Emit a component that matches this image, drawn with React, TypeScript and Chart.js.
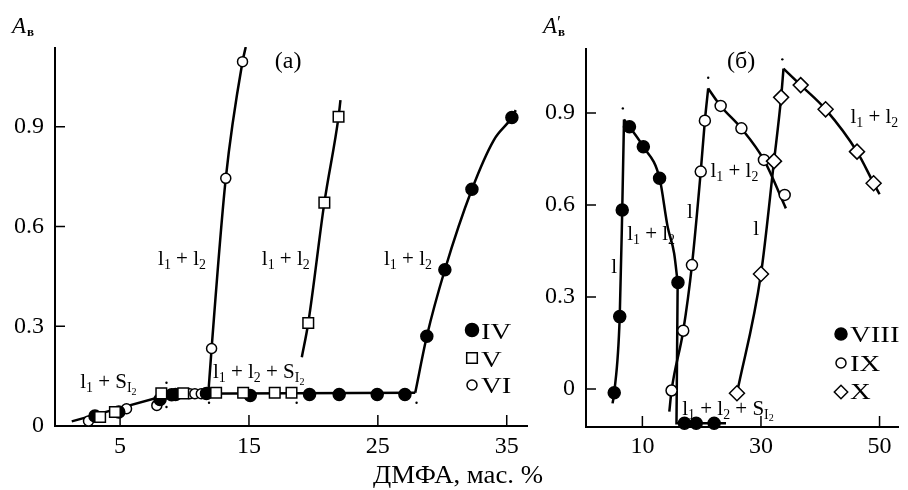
import React, { useEffect, useRef } from 'react';
import { Chart, registerables } from 'chart.js';

Chart.register(...registerables);

const FONT = '"Liberation Serif", "Times New Roman", serif';

// ---------- Panel (а) ----------
const A_X_TICKS = [5, 15, 25, 35];
const A_Y_TICKS = [0, 0.3, 0.6, 0.9];
const A_Y_LABELS = ['0', '0.3', '0.6', '0.9'];

const IV_X = [3.05, 4.9, 8.1, 9.0, 9.3, 11.7, 15.1, 19.7, 22.0, 24.95, 27.1, 28.8, 30.2, 32.3, 35.4];
const IV_Y = [0.03, 0.042, 0.08, 0.094, 0.095, 0.098, 0.092, 0.095, 0.095, 0.095, 0.095, 0.27, 0.47, 0.712, 0.928];
const V_X = [3.45, 4.6, 8.2, 9.9, 12.45, 14.55, 17.0, 18.3, 19.6, 20.85, 21.95];
const V_Y = [0.027, 0.042, 0.098, 0.098, 0.1, 0.1, 0.1, 0.1, 0.31, 0.672, 0.93];
const VI_X = [2.55, 5.5, 7.85, 10.4, 10.8, 11.3, 12.1, 13.2, 14.5];
const VI_Y = [0.015, 0.052, 0.062, 0.097, 0.097, 0.097, 0.233, 0.745, 1.096];

const BASE_X = [1.25, 9.0, 27.9];
const BASE_Y = [0.014, 0.097, 0.1];
const VI_FIT_X = [11.85, 12.1, 13.2, 14.5, 14.75];
const VI_FIT_Y = [0.1, 0.233, 0.745, 1.096, 1.14];
const V_FIT_X = [19.1, 19.6, 20.85, 21.95, 22.1];
const V_FIT_Y = [0.207, 0.31, 0.672, 0.93, 0.98];
const IV_FIT_X = [27.9, 28.8, 30.2, 32.3, 34.0, 35.4, 35.7];
const IV_FIT_Y = [0.1, 0.27, 0.47, 0.712, 0.86, 0.928, 0.95];
const DOTS_A_X = [8.6, 8.6, 11.9, 18.7, 28.0];
const DOTS_A_Y = [0.13, 0.057, 0.07, 0.07, 0.07];

// ---------- Panel (б) ----------
const B_X_TICKS = [10, 30, 50];
const B_Y_TICKS = [0, 0.3, 0.6, 0.9];
const B_Y_LABELS = ['0', '0.3', '0.6', '0.9'];

const VIII_X = [5.25, 6.18, 6.6, 7.82, 10.16, 12.9, 16.0, 17.1, 19.07, 22.1];
const VIII_Y = [-0.012, 0.236, 0.584, 0.855, 0.79, 0.687, 0.347, -0.112, -0.112, -0.112];
const IX_X = [14.92, 16.89, 18.36, 19.84, 20.54, 23.2, 26.7, 30.5, 34.0];
const IX_Y = [-0.005, 0.19, 0.404, 0.709, 0.875, 0.923, 0.85, 0.747, 0.633];
const X_X = [25.95, 30.0, 32.2, 33.4, 36.7, 40.9, 46.2, 49.0];
const X_Y = [-0.014, 0.375, 0.743, 0.951, 0.991, 0.912, 0.774, 0.671];

const VIII_UP_X = [4.97, 5.25, 6.18, 6.6, 6.9];
const VIII_UP_Y = [-0.047, -0.012, 0.236, 0.584, 0.879];
const VIII_DOWN_X = [6.9, 7.82, 10.16, 12.9, 14.26, 15.36, 15.95];
const VIII_DOWN_Y = [0.879, 0.855, 0.79, 0.687, 0.529, 0.442, 0.347];
const VIII_DROP_X = [15.95, 15.75, 24.1];
const VIII_DROP_Y = [0.347, -0.112, -0.112];
const IX_UP_X = [14.54, 14.92, 16.89, 18.36, 19.84, 20.54, 21.1];
const IX_UP_Y = [-0.074, -0.005, 0.19, 0.404, 0.709, 0.875, 0.98];
const IX_DOWN_X = [21.1, 23.2, 26.7, 30.5, 34.2];
const IX_DOWN_Y = [0.98, 0.923, 0.85, 0.747, 0.589];
const X_UP_X = [25.95, 30.0, 32.2, 33.4, 33.8];
const X_UP_Y = [-0.014, 0.375, 0.743, 0.951, 1.045];
const X_DOWN_X = [33.8, 36.7, 40.9, 46.2, 49.0, 50.0];
const X_DOWN_Y = [1.045, 0.991, 0.912, 0.774, 0.671, 0.635];
const DOTS_B_X = [6.7, 21.1, 33.6];
const DOTS_B_Y = [0.915, 1.015, 1.075];

type Seg = [string, number];
const L: Seg[] = [['l', 0]];
const L12: Seg[] = [['l', 0], ['1', 1], [' + l', 0], ['2', 1]];
const L1S: Seg[] = [['l', 0], ['1', 1], [' + S', 0], ['I', 1], ['2', 2]];
const L12S: Seg[] = [['l', 0], ['1', 1], [' + l', 0], ['2', 1], [' + S', 0], ['I', 1], ['2', 2]];

const zip = (xs: number[], ys: number[]) => xs.map((x, i) => ({ x, y: ys[i] }));

function drawSegs(ctx: CanvasRenderingContext2D, segs: Seg[], x: number, y: number, size: number, hScale = 1) {
  const sz = [size, size * 0.66, size * 0.48];
  const off = [0, size * 0.2, size * 0.3];
  ctx.save();
  ctx.translate(x, y);
  ctx.scale(hScale, 1);
  ctx.fillStyle = '#000';
  ctx.textAlign = 'left';
  ctx.textBaseline = 'alphabetic';
  let cx = 0;
  for (const [t, l] of segs) {
    ctx.font = `${sz[l]}px ${FONT}`;
    ctx.fillText(t, cx, off[l]);
    cx += ctx.measureText(t).width;
  }
  ctx.restore();
}

function drawMarker(ctx: CanvasRenderingContext2D, style: string, x: number, y: number, r: number, fill: string) {
  ctx.beginPath();
  if (style === 'circle') ctx.arc(x, y, r, 0, Math.PI * 2);
  else if (style === 'rect') {
    const s = r * Math.SQRT1_2;
    ctx.rect(x - s, y - s, 2 * s, 2 * s);
  } else {
    ctx.moveTo(x - r, y);
    ctx.lineTo(x, y - r);
    ctx.lineTo(x + r, y);
    ctx.lineTo(x, y + r);
    ctx.closePath();
  }
  ctx.fillStyle = fill;
  ctx.fill();
  ctx.lineWidth = 1.5;
  ctx.strokeStyle = '#000';
  ctx.stroke();
}

type Note = { x: number; y: number; segs: Seg[]; size: number };
type LegendRow = { style: string; fill: string; r: number; label: string; my: number; ty: number };
type Deco = {
  xTicks: number[];
  yTicks: number[];
  notes: Note[];
  legend: { mx: number; tx: number; rows: LegendRow[] };
  yTitle: { x: number; y: number; prime: boolean };
  xTitle?: { x: number; y: number };
};

function makeDeco(d: Deco) {
  return {
    id: 'deco',
    beforeDatasetsDraw(chart: any) {
      const ctx: CanvasRenderingContext2D = chart.ctx;
      const { left, right, top, bottom } = chart.chartArea;
      const xs = chart.scales.x;
      const ys = chart.scales.y;
      ctx.save();
      ctx.strokeStyle = '#000';
      ctx.lineWidth = 2;
      ctx.beginPath();
      ctx.moveTo(left, top);
      ctx.lineTo(left, bottom);
      ctx.lineTo(right, bottom);
      ctx.stroke();
      ctx.lineWidth = 1.5;
      ctx.beginPath();
      for (const v of d.xTicks) {
        const px = xs.getPixelForValue(v);
        ctx.moveTo(px, bottom);
        ctx.lineTo(px, bottom - 11);
      }
      for (const v of d.yTicks) {
        const py = ys.getPixelForValue(v);
        ctx.moveTo(left, py);
        ctx.lineTo(left + 10, py);
      }
      ctx.stroke();
      ctx.restore();
    },
    afterDraw(chart: any) {
      const ctx: CanvasRenderingContext2D = chart.ctx;
      const xs = chart.scales.x;
      const ys = chart.scales.y;
      ctx.save();
      for (const n of d.notes) {
        drawSegs(ctx, n.segs, xs.getPixelForValue(n.x), ys.getPixelForValue(n.y), n.size);
      }
      for (const row of d.legend.rows) {
        drawMarker(ctx, row.style, d.legend.mx, row.my, row.r, row.fill);
        ctx.save();
        ctx.translate(d.legend.tx, row.ty);
        ctx.scale(1.25, 1);
        ctx.font = `23px ${FONT}`;
        ctx.fillStyle = '#000';
        ctx.textAlign = 'left';
        ctx.textBaseline = 'alphabetic';
        ctx.fillText(row.label, 0, 0);
        ctx.restore();
      }
      const t = d.yTitle;
      ctx.fillStyle = '#000';
      ctx.textAlign = 'left';
      ctx.textBaseline = 'alphabetic';
      ctx.font = `italic 23px ${FONT}`;
      ctx.fillText('A', t.x, t.y);
      const aw = ctx.measureText('A').width;
      if (t.prime) {
        ctx.font = `18px ${FONT}`;
        ctx.fillText('\u2032', t.x + aw, t.y - 4);
      }
      ctx.font = `bold 13px ${FONT}`;
      ctx.fillText('в', t.x + aw + 1, t.y + 3);
      if (d.xTitle) {
        ctx.save();
        ctx.translate(d.xTitle.x, d.xTitle.y);
        ctx.scale(1.07, 1);
        ctx.font = `25px ${FONT}`;
        ctx.fillText('ДМФА, мас. %', 0, 0);
        ctx.restore();
      }
      ctx.restore();
    },
  };
}

function lineDs(xs: number[], ys: number[], smooth = true) {
  return {
    data: zip(xs, ys),
    showLine: true,
    borderColor: '#000',
    borderWidth: 2.5,
    pointRadius: 0,
    fill: false,
    cubicInterpolationMode: smooth ? 'monotone' : 'default',
    tension: 0,
    order: 3,
  };
}

function markDs(xs: number[], ys: number[], style: string, r: number, fill: string) {
  return {
    data: zip(xs, ys),
    showLine: false,
    pointStyle: style,
    pointRadius: r,
    pointBackgroundColor: fill,
    pointBorderColor: '#000',
    pointBorderWidth: 1.5,
    order: 1,
    clip: false,
  };
}

function dotDs(xs: number[], ys: number[]) {
  return {
    data: zip(xs, ys),
    showLine: false,
    pointStyle: 'circle',
    pointRadius: 1.2,
    pointBackgroundColor: '#000',
    pointBorderWidth: 0,
    order: 2,
  };
}

function scales(xMin: number, xMax: number, yMin: number, yMax: number, xTicks: number[], yTicks: number[], yLabels: string[], xH: number, yW: number, xPad: number, yPad: number) {
  return {
    x: {
      type: 'linear',
      min: xMin,
      max: xMax,
      afterBuildTicks: (s: any) => {
        s.ticks = xTicks.map((v) => ({ value: v }));
      },
      afterFit: (s: any) => {
        s.height = xH;
      },
      grid: { display: false, drawTicks: false },
      border: { display: false },
      ticks: {
        font: { family: FONT, size: 24 },
        color: '#000',
        padding: xPad,
        autoSkip: false,
        maxRotation: 0,
        callback: (v: number) => String(v),
      },
    },
    y: {
      type: 'linear',
      min: yMin,
      max: yMax,
      afterBuildTicks: (s: any) => {
        s.ticks = yTicks.map((v) => ({ value: v }));
      },
      afterFit: (s: any) => {
        s.width = yW;
      },
      grid: { display: false, drawTicks: false },
      border: { display: false },
      ticks: {
        font: { family: FONT, size: 24 },
        color: '#000',
        padding: yPad,
        autoSkip: false,
        callback: (_v: number, i: number) => yLabels[i],
      },
    },
  };
}

function leftConfig(): any {
  return {
    type: 'scatter',
    data: {
      datasets: [
        lineDs(BASE_X, BASE_Y, false),
        lineDs(VI_FIT_X, VI_FIT_Y),
        lineDs(V_FIT_X, V_FIT_Y),
        lineDs(IV_FIT_X, IV_FIT_Y),
        dotDs(DOTS_A_X, DOTS_A_Y),
        markDs(V_X, V_Y, 'rect', 7.5, '#fff'),
        markDs(IV_X, IV_Y, 'circle', 6, '#000'),
        markDs(VI_X, VI_Y, 'circle', 5, '#fff'),
      ],
    },
    options: {
      responsive: false,
      animation: false,
      events: [],
      layout: { padding: { top: 47, right: 32, left: 0, bottom: 0 } },
      plugins: { legend: { display: false }, tooltip: { enabled: false } },
      scales: scales(-0.05, 36.65, 0, 1.14, A_X_TICKS, A_Y_TICKS, A_Y_LABELS, 64, 55, 6, 11),
    },
    plugins: [
      makeDeco({
        xTicks: A_X_TICKS,
        yTicks: A_Y_TICKS,
        notes: [
          { x: 17.0, y: 1.077, segs: [['(а)', 0]], size: 24 },
          { x: 7.95, y: 0.484, segs: L12, size: 21 },
          { x: 16.0, y: 0.484, segs: L12, size: 21 },
          { x: 25.48, y: 0.484, segs: L12, size: 21 },
          { x: 12.2, y: 0.1436, segs: L12S, size: 21 },
          { x: 1.9, y: 0.1135, segs: L1S, size: 21 },
        ],
        legend: {
          mx: 472,
          tx: 481,
          rows: [
            { style: 'circle', fill: '#000', r: 6.5, label: 'IV', my: 330, ty: 339 },
            { style: 'rect', fill: '#fff', r: 7.5, label: 'V', my: 358, ty: 367 },
            { style: 'circle', fill: '#fff', r: 5, label: 'VI', my: 385, ty: 393 },
          ],
        },
        yTitle: { x: 12, y: 33, prime: false },
        xTitle: { x: 373, y: 483 },
      }),
    ],
  };
}

function rightConfig(): any {
  return {
    type: 'scatter',
    data: {
      datasets: [
        lineDs(VIII_UP_X, VIII_UP_Y),
        lineDs(VIII_DOWN_X, VIII_DOWN_Y),
        lineDs(VIII_DROP_X, VIII_DROP_Y, false),
        lineDs(IX_UP_X, IX_UP_Y),
        lineDs(IX_DOWN_X, IX_DOWN_Y),
        lineDs(X_UP_X, X_UP_Y),
        lineDs(X_DOWN_X, X_DOWN_Y),
        dotDs(DOTS_B_X, DOTS_B_Y),
        markDs(X_X, X_Y, 'rectRot', 7.5, '#fff'),
        markDs(IX_X, IX_Y, 'circle', 5.5, '#fff'),
        markDs(VIII_X, VIII_Y, 'circle', 6, '#000'),
      ],
    },
    options: {
      responsive: false,
      animation: false,
      events: [],
      layout: { padding: { top: 48, right: 0, left: 0, bottom: 0 } },
      plugins: { legend: { display: false }, tooltip: { enabled: false } },
      scales: scales(0.49, 53.28, -0.124, 1.112, B_X_TICKS, B_Y_TICKS, B_Y_LABELS, 63, 51, 5, 11),
    },
    plugins: [
      makeDeco({
        xTicks: B_X_TICKS,
        yTicks: B_Y_TICKS,
        notes: [
          { x: 24.26, y: 1.047, segs: [['(б)', 0]], size: 24 },
          { x: 4.75, y: 0.378, segs: L, size: 21 },
          { x: 17.54, y: 0.5575, segs: L, size: 21 },
          { x: 28.69, y: 0.502, segs: L, size: 21 },
          { x: 7.43, y: 0.486, segs: L12, size: 21 },
          { x: 21.48, y: 0.691, segs: L12, size: 21 },
          { x: 45.08, y: 0.867, segs: L12, size: 21 },
          { x: 16.72, y: -0.085, segs: L12S, size: 21 },
        ],
        legend: {
          mx: 306,
          tx: 315,
          rows: [
            { style: 'circle', fill: '#000', r: 6, label: 'VIII', my: 334, ty: 342 },
            { style: 'circle', fill: '#fff', r: 5, label: 'IX', my: 363, ty: 371 },
            { style: 'rectRot', fill: '#fff', r: 6.7, label: 'X', my: 392, ty: 399 },
          ],
        },
        yTitle: { x: 8, y: 33, prime: true },
      }),
    ],
  };
}

export default function App() {
  const leftRef = useRef<HTMLCanvasElement>(null);
  const rightRef = useRef<HTMLCanvasElement>(null);
  useEffect(() => {
    const c1 = new Chart(leftRef.current as HTMLCanvasElement, leftConfig());
    const c2 = new Chart(rightRef.current as HTMLCanvasElement, rightConfig());
    return () => {
      c1.destroy();
      c2.destroy();
    };
  }, []);
  return (
    <div style={{ position: 'fixed', left: 0, top: 0, width: 908, height: 490, background: '#fff', overflow: 'hidden' }}>
      <canvas ref={leftRef} width={560} height={490} style={{ position: 'absolute', left: 0, top: 0, width: 560, height: 490 }} />
      <canvas ref={rightRef} width={373} height={490} style={{ position: 'absolute', left: 535, top: 0, width: 373, height: 490 }} />
    </div>
  );
}
